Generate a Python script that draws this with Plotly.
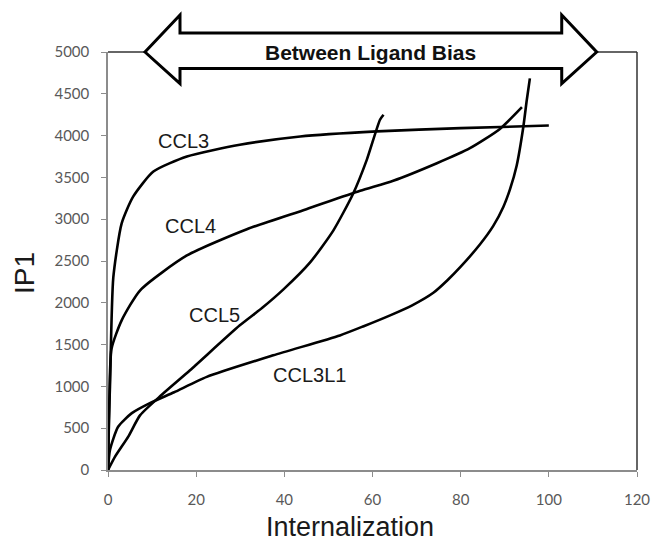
import plotly.graph_objects as go

# ---- data ----
ccl3_x = [0, 0.2, 0.45, 1.2, 3.1, 5.7, 10.3, 17.9, 29.9, 43.6, 61, 80, 100]
ccl3_y = [0, 600, 1000, 2300, 2950, 3270, 3570, 3750, 3890, 3990, 4050, 4090, 4120]

ccl4_x = [0, 0.3, 0.8, 3.1, 7.3, 17.9, 31.5, 45, 57.2, 64.7, 74.6, 82.1, 88.9, 93.9]
ccl4_y = [0, 800, 1450, 1790, 2150, 2566, 2880, 3120, 3340, 3460, 3670, 3850, 4080, 4340]

ccl5_x = [0, 1.6, 4.6, 7.3, 12.2, 18.6, 29.9, 35, 39.8, 45.8, 51.1, 55.6, 58.7, 61.7, 62.5]
ccl5_y = [0, 160, 400, 656, 900, 1193, 1730, 1940, 2160, 2480, 2864, 3305, 3710, 4190, 4250]

ccl3l1_x = [0, 0.45, 2.3, 5.4, 9.5, 15, 22.4, 37.5, 52.6, 58, 64, 69, 73.8, 77, 79.9, 84.4, 87.4, 89.7, 91.2, 92.7, 94.2, 95, 95.7]
ccl3l1_y = [0, 240, 517, 680, 800, 930, 1114, 1372, 1610, 1720, 1850, 1970, 2120, 2270, 2426, 2700, 2920, 3150, 3360, 3640, 4100, 4426, 4685]

series = [("CCL3", ccl3_x, ccl3_y), ("CCL4", ccl4_x, ccl4_y),
          ("CCL5", ccl5_x, ccl5_y), ("CCL3L1", ccl3l1_x, ccl3l1_y)]

label_names = ["CCL3", "CCL4", "CCL5", "CCL3L1"]
label_x = [17.2, 18.6, 24.2, 45.8]
label_y = [3930, 2924, 1850, 1134]

x_ticks = [0, 20, 40, 60, 80, 100, 120]
y_ticks = [0, 500, 1000, 1500, 2000, 2500, 3000, 3500, 4000, 4500, 5000]

fig = go.Figure()
for name, xs, ys in series:
    fig.add_trace(go.Scatter(x=xs, y=ys, mode="lines", name=name,
                             line=dict(color="black", width=2.6, shape="spline", smoothing=0.6),
                             showlegend=False, cliponaxis=False))

annotations = []
for n, lx, ly in zip(label_names, label_x, label_y):
    annotations.append(dict(x=lx, y=ly, xref="x", yref="y", text=n, showarrow=False,
                            xanchor="center", yanchor="middle",
                            font=dict(family="Liberation Sans, Arial", size=20, color="#1a1a1a")))

annotations.append(dict(x=-0.159, y=0.471, xref="paper", yref="paper", text="IP1",
                        textangle=-90, showarrow=False, xanchor="center", yanchor="middle",
                        font=dict(family="Liberation Sans, Arial", size=28, color="#1a1a1a")))
annotations.append(dict(x=0.457, y=-0.137, xref="paper", yref="paper", text="Internalization",
                        showarrow=False, xanchor="center", yanchor="middle",
                        font=dict(family="Liberation Sans, Arial", size=27, color="#1a1a1a")))
annotations.append(dict(x=0.497, y=1.0, xref="paper", yref="paper", text="<b>Between Ligand Bias</b>",
                        showarrow=False, xanchor="center", yanchor="middle",
                        font=dict(family="Liberation Sans, Arial", size=21, color="#111111")))

# double-headed block arrow (paper coords)
tl, bl, br, tr = 0.0699, 0.1361, 0.8577, 0.9238
cy, ht, hb, st, sb = 1.0, 1.0885, 0.9246, 1.0455, 0.9605
arrow_path = (f"M {tl},{cy} L {bl},{ht} L {bl},{st} L {br},{st} L {br},{ht} L {tr},{cy} "
              f"L {br},{hb} L {br},{sb} L {bl},{sb} L {bl},{hb} Z")

shapes = [
    dict(type="line", xref="paper", yref="paper", x0=0, y0=1, x1=1, y1=1,
         line=dict(color="#333333", width=1.5)),
    dict(type="line", xref="paper", yref="paper", x0=1, y0=0, x1=1, y1=1,
         line=dict(color="#333333", width=1.5)),
    dict(type="path", xref="paper", yref="paper", path=arrow_path,
         fillcolor="white", line=dict(color="black", width=3), layer="above"),
]

fig.update_layout(
    width=652, height=545,
    margin=dict(l=108, r=15, t=52, b=75, autoexpand=False),
    paper_bgcolor="white", plot_bgcolor="white",
    annotations=annotations, shapes=shapes,
    xaxis=dict(range=[0, 120], tickvals=x_ticks, showgrid=False, zeroline=False,
               showline=True, linecolor="#8c8c8c", linewidth=1.5, automargin=False,
               ticks="outside", ticklen=5, tickcolor="#8c8c8c",
               ticklabelstandoff=10,
               tickfont=dict(family="Lato, Open Sans", size=15, color="#595959")),
    yaxis=dict(range=[0, 5000], tickvals=y_ticks, showgrid=False, zeroline=False,
               showline=True, linecolor="#8c8c8c", linewidth=1.5, automargin=False,
               ticks="outside", ticklen=5, tickcolor="#8c8c8c",
               ticklabelstandoff=9,
               tickfont=dict(family="Lato, Open Sans", size=15, color="#595959")),
)

fig.write_html("out.html")
